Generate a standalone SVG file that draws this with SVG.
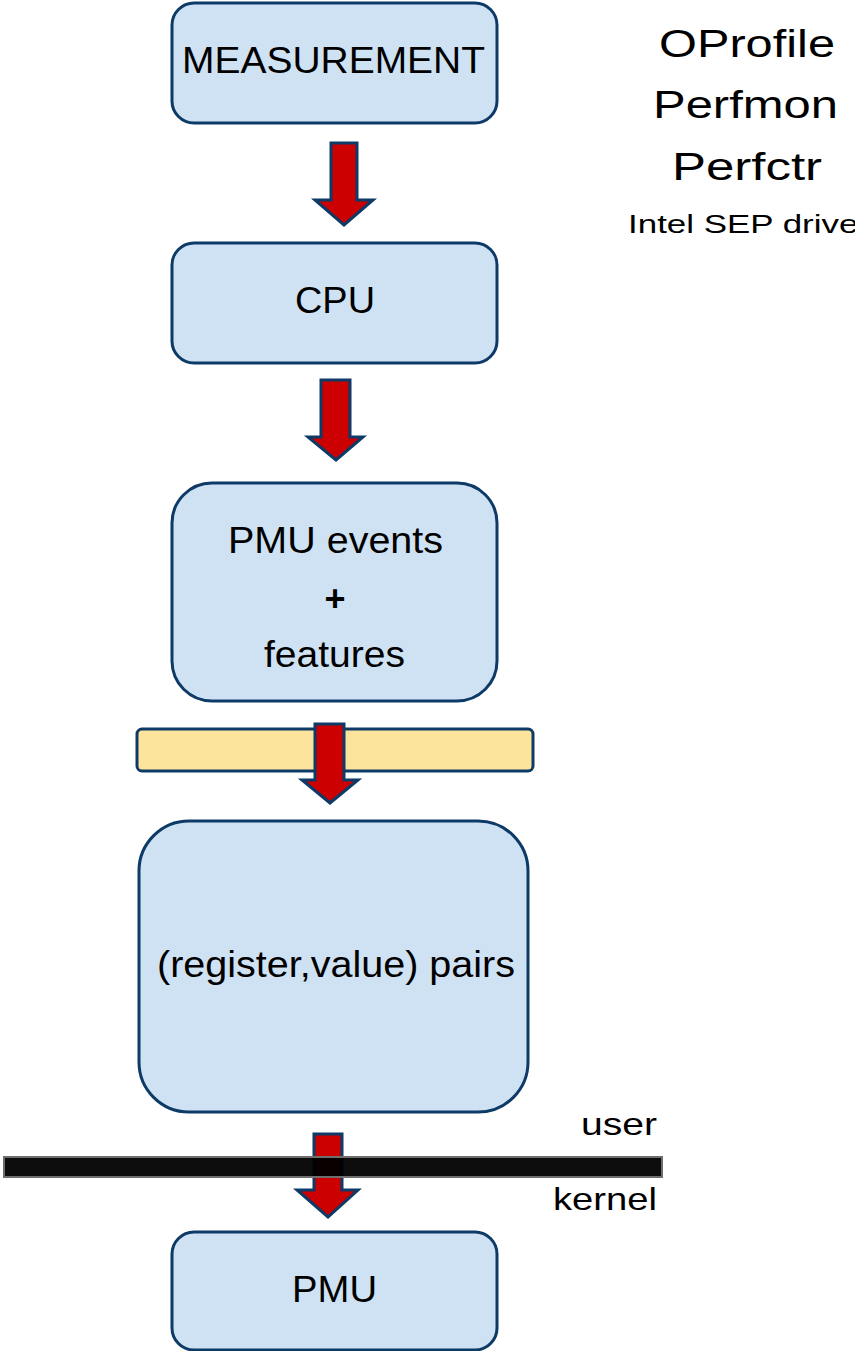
<svg xmlns="http://www.w3.org/2000/svg" width="855" height="1351" viewBox="0 0 855 1351">
  <style>
    .box { fill: #cfe2f3; stroke: #0d3a66; stroke-width: 3; }
    .band { fill: #fde49c; stroke: #0d3a66; stroke-width: 3; }
    .arrow { fill: #cc0000; stroke: #0d3a66; stroke-width: 3; stroke-linejoin: miter; }
    .lbl { font-family: "Liberation Sans", Arial, sans-serif; font-size: 36px; fill: #000; }
    .mid { text-anchor: middle; }
    .side { font-family: "Liberation Sans", Arial, sans-serif; fill: #000; }
  </style>

  <!-- tool names -->
  <g id="tools">
    <text class="side" x="659" y="57" font-size="38" textLength="176" lengthAdjust="spacingAndGlyphs">OProfile</text>
    <text class="side" x="653" y="118" font-size="38" textLength="185" lengthAdjust="spacingAndGlyphs">Perfmon</text>
    <text class="side" x="672" y="180" font-size="38" textLength="150" lengthAdjust="spacingAndGlyphs">Perfctr</text>
    <text class="side" x="628" y="233" font-size="25" textLength="242" lengthAdjust="spacingAndGlyphs">Intel SEP driver</text>
  </g>

  <g id="measurement">
    <rect class="box" x="172" y="3" width="325" height="120" rx="22"/>
    <text class="lbl" x="182" y="73" textLength="303" lengthAdjust="spacingAndGlyphs">MEASUREMENT</text>
  </g>

  <g id="cpu">
    <rect class="box" x="172" y="243" width="325" height="120" rx="22"/>
    <text class="lbl" x="295" y="313" textLength="80" lengthAdjust="spacingAndGlyphs">CPU</text>
  </g>

  <g id="pmu-events">
    <rect class="box" x="172" y="483" width="325" height="218" rx="40"/>
    <text class="lbl" x="228" y="553" textLength="215" lengthAdjust="spacingAndGlyphs">PMU events</text>
    <text class="lbl mid" x="335" y="611" font-size="30" font-weight="bold">+</text>
    <text class="lbl" x="264" y="667" textLength="141" lengthAdjust="spacingAndGlyphs">features</text>
  </g>

  <g id="library">
    <rect class="band" x="137" y="729" width="396" height="42" rx="5"/>
  </g>

  <g id="register-pairs">
    <rect class="box" x="139" y="821" width="389" height="291" rx="50"/>
    <text class="lbl" x="157" y="977" textLength="358" lengthAdjust="spacingAndGlyphs">(register,value) pairs</text>
  </g>

  <g id="pmu">
    <rect class="box" x="172" y="1232" width="325" height="118" rx="22"/>
    <text class="lbl" x="292" y="1302" textLength="85" lengthAdjust="spacingAndGlyphs">PMU</text>
  </g>

  <!-- flow arrows -->
  <g id="connectors">
    <polygon class="arrow" points="331,143 357,143 357,200 373,200 344,225 315,200 331,200"/>
    <polygon class="arrow" points="321,380 350,380 350,437 363,437 336,460 308,437 321,437"/>
    <polygon class="arrow" points="315,724 344,724 344,780 358,780 330,803 302,780 315,780"/>
    <polygon class="arrow" points="314,1134 342,1134 342,1190 358,1190 328,1217 297,1190 314,1190"/>
  </g>

  <!-- user / kernel boundary -->
  <g id="boundary">
    <rect x="4" y="1157" width="658" height="20" fill="#000" fill-opacity="0.95" stroke="#6e6e6e" stroke-width="2"/>
    <text class="side" x="581" y="1135" font-size="32" textLength="76" lengthAdjust="spacingAndGlyphs">user</text>
    <text class="side" x="553" y="1210" font-size="32" textLength="104" lengthAdjust="spacingAndGlyphs">kernel</text>
  </g>
</svg>
